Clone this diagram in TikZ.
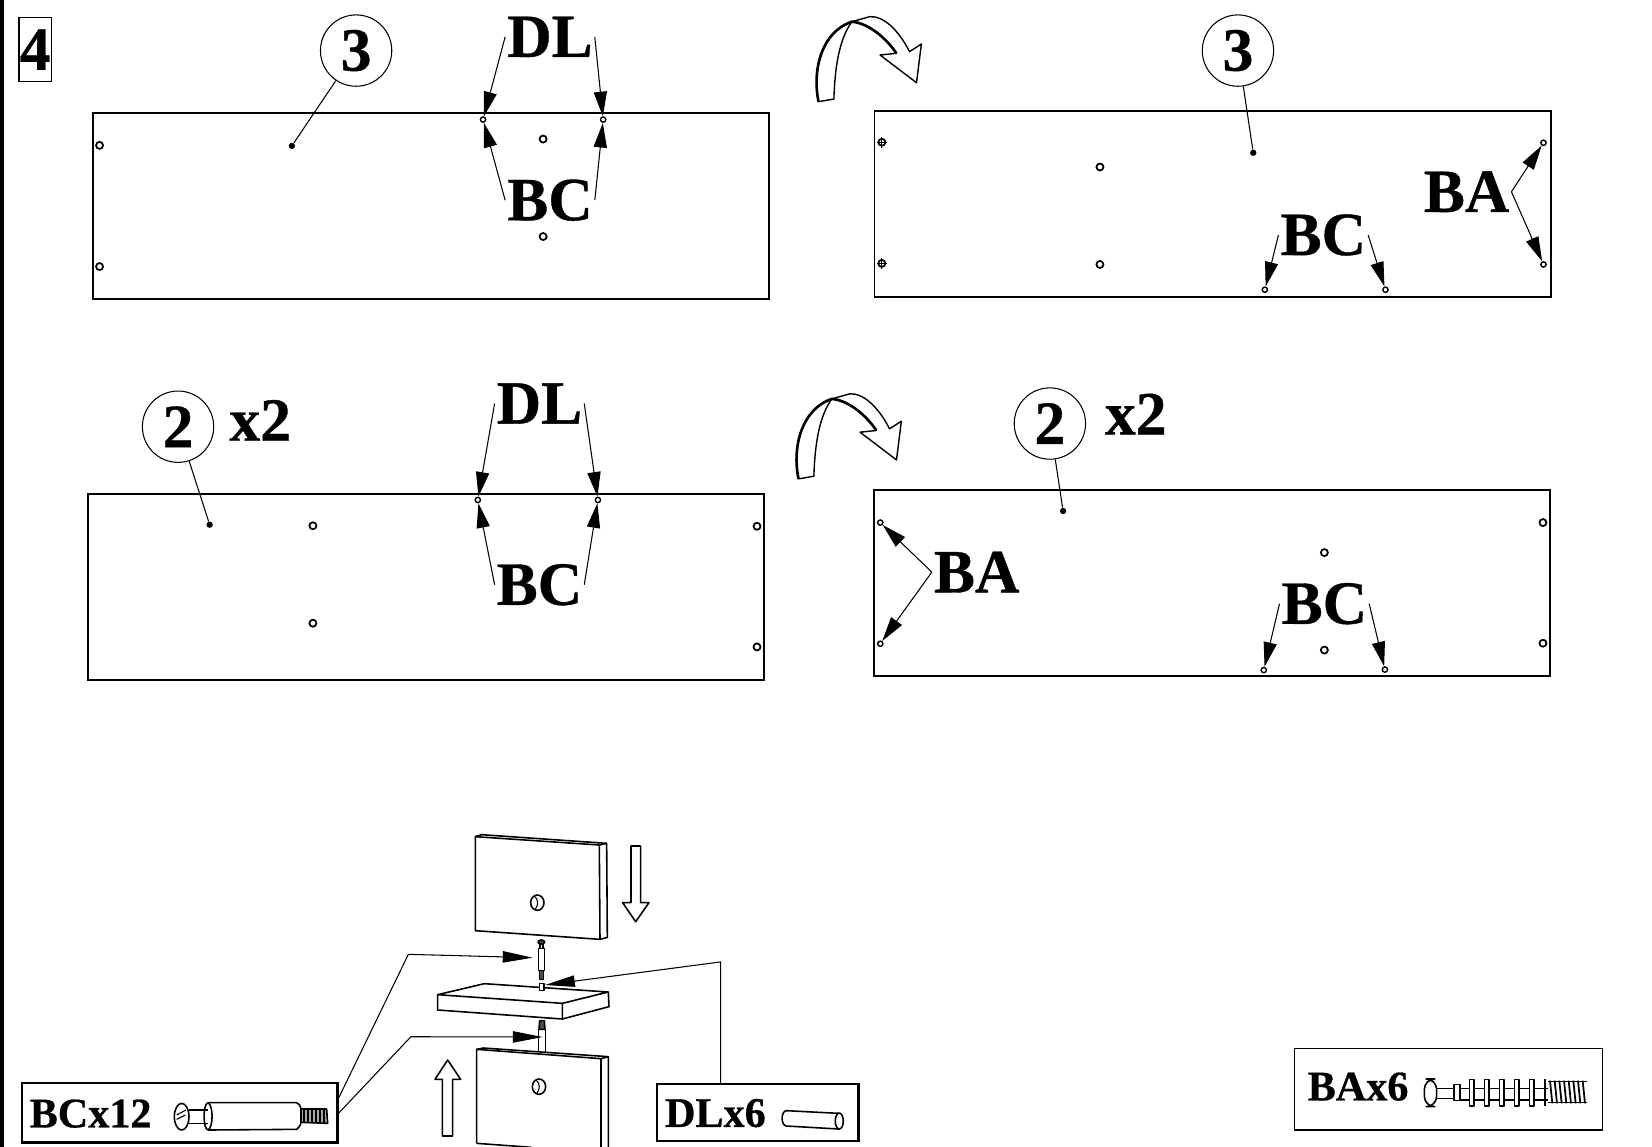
\documentclass[tikz,border=0pt]{standalone}
\usepackage{fontspec}
\setmainfont[BoldFeatures={FakeBold=0.6}]{Liberation Serif}
\usetikzlibrary{arrows.meta}
\newcommand{\xlength}{0.02107}
\newcommand{\ylength}{0.02107}
\newcommand{\zoomscale}{0.31637}
% turning arrow, drawn at the top panel place
\newcommand{\turnarrow}[1]{
	\begin{scope}[shift={#1}]
		\draw [fill=white,line width=.8pt,line join=round] (776.4,96.5) .. controls (770,65) and (780,30) .. (808,20.6) .. controls (825,22) and (842,38) .. (850.3,50.6) -- (834.8,52.2) -- (869.4,78.5) -- (874,41.8) -- (862.8,49) .. controls (852,28) and (838,15) .. (825,15.8) -- (808,20.6) .. controls (797,36) and (792,60) .. (791,94) -- cycle;
		\draw [line width=1.5pt] (776.4,96.5) .. controls (770,65) and (780,30) .. (808,20.6) .. controls (825,22) and (842,38) .. (850.3,50.6);
	\end{scope}
}
\tikzset{
	panel/.style={line width=1.1pt},
	hole/.style={circle,draw,fill=white,inner sep=0pt,minimum size=4pt,line width=1pt},
	smallhole/.style={circle,draw,fill=white,inner sep=0pt,minimum size=3pt,line width=.8pt},
	dot/.style={circle,fill=black,inner sep=0pt,minimum size=3.6pt},
	callout/.style={circle,draw,inner sep=0pt,minimum size=40.6pt,line width=.6pt,font=\fontsize{35}{40}\selectfont\bfseries},
	biglabel/.style={inner sep=1pt,font=\fontsize{35}{40}\selectfont\bfseries},
	boxlabel/.style={inner sep=0pt,font=\fontsize{24}{28}\selectfont\bfseries},
	partbox/.style={draw,inner sep=0pt,line width=1.4pt},
	thinline/.style={line width=.6pt},
	pointer/.style={line width=.6pt,-{Triangle[length=14pt,width=7.5pt]}},
	longpointer/.style={line width=.6pt,-{Triangle[length=17pt,width=6.5pt]}},
	part/.style={line width=.9pt,line join=round},
}
\begin{document}
\begin{tikzpicture}[x=\xlength cm,y=-\ylength cm]
		\useasboundingbox (0,0) rectangle (1568,1088.6);
		% page edge
		\draw [line width=2.3pt] (1.7,0) -- (1.7,1088.6);
		\node (stepno) [draw,line width=.6pt,inner sep=0pt,minimum width=18.3pt,minimum height=36.5pt,font=\fontsize{35}{40}\selectfont\bfseries] at (33.3,47) {4};
		%panel 3 front
		\draw [panel] (88,107.5) rectangle (729.5,284);
		\node (holea) [hole] at (94.5,138) {};
		\node (holeb) [hole] at (94.5,253) {};
		\node (holec) [hole] at (515.5,132) {};
		\node (holed) [hole] at (515.5,224.5) {};
		\node (holee) [smallhole] at (458.5,113.5) {};
		\node (holef) [smallhole] at (572.5,113.5) {};
		\node (dota) [dot] at (277,138.5) {};
		\node (calla) [callout] at (338,48) {3};
		\draw [thinline] (calla) -- (dota);
		\node (dla) [biglabel] at (522,35) {DL};
		\node (bca) [biglabel] at (522,190) {BC};
		\draw [pointer] (dla.west) -- (holee);
		\draw [pointer] (dla.east) -- (holef);
		\draw [pointer] (bca.west) -- (holee);
		\draw [pointer] (bca.east) -- (holef);
		%panel 3 back
		\turnarrow{(0.5,0)}
		\draw [panel] (830,105) rectangle (1472,282);
		\node (holeg) [hole] at (837,135) {};
		\node (holeh) [hole] at (837,250) {};
		\draw [line width=.6pt] (837,130) -- (837,140) (832,135) -- (842,135);
		\draw [line width=.6pt] (837,245) -- (837,255) (832,250) -- (842,250);
		\node (holei) [hole] at (1044,158.5) {};
		\node (holej) [hole] at (1044,251) {};
		\node (holek) [smallhole] at (1200.5,275) {};
		\node (holel) [smallhole] at (1315,275) {};
		\node (holem) [smallhole] at (1465,135.5) {};
		\node (holen) [smallhole] at (1465,251) {};
		\node (dotb) [dot] at (1189.5,145) {};
		\node (callb) [callout] at (1175,48) {3};
		\draw [thinline] (callb) -- (dotb);
		\node (bcb) [biglabel] at (1256,223) {BC};
		\node (bab) [biglabel] at (1392,182) {BA};
		\draw [pointer] (bcb.west) -- (holek);
		\draw [pointer] (bcb.east) -- (holel);
		\draw [pointer] (bab.east) -- (holem);
		\draw [pointer] (bab.east) -- (holen);
		%panel 2 front
		\draw [panel] (83.5,468.5) rectangle (725.5,645);
		\node (holeo) [hole] at (297,499) {};
		\node (holep) [hole] at (297,591.5) {};
		\node (holeq) [hole] at (718.5,499.5) {};
		\node (holer) [hole] at (718.5,614) {};
		\node (holes) [smallhole] at (453.5,474.5) {};
		\node (holet) [smallhole] at (567.5,474.5) {};
		\node (dotc) [dot] at (199,498) {};
		\node (callc) [callout] at (169,405) {2};
		\draw [thinline] (callc) -- (dotc);
		\node (timesc) [biglabel] at (247,399) {x2};
		\node (dlc) [biglabel] at (512,383) {DL};
		\node (bcc) [biglabel] at (512,555) {BC};
		\draw [pointer] (dlc.west) -- (holes);
		\draw [pointer] (dlc.east) -- (holet);
		\draw [pointer] (bcc.west) -- (holes);
		\draw [pointer] (bcc.east) -- (holet);
		%panel 2 back
		\turnarrow{(-18.5,358)}
		\draw [panel] (829.5,465.5) rectangle (1471,641.5);
		\node (holeu) [hole] at (1464.5,496) {};
		\node (holev) [hole] at (1464.5,610.5) {};
		\node (holew) [hole] at (1257,524.5) {};
		\node (holex) [hole] at (1257,617) {};
		\node (holey) [smallhole] at (835.5,496) {};
		\node (holez) [smallhole] at (835.5,611) {};
		\node (holeaa) [smallhole] at (1199.5,636) {};
		\node (holeab) [smallhole] at (1314.5,635.5) {};
		\node (dotd) [dot] at (1009,485) {};
		\node (calld) [callout] at (996.5,402) {2};
		\draw [thinline] (calld) -- (dotd);
		\node (timesd) [biglabel] at (1078,393) {x2};
		\node (bad) [biglabel] at (927,543) {BA};
		\node (bcd) [biglabel] at (1257,573) {BC};
		\draw [pointer] (bad.west) -- (holey);
		\draw [pointer] (bad.west) -- (holez);
		\draw [pointer] (bcd.west) -- (holeaa);
		\draw [pointer] (bcd.east) -- (holeab);
		%joint detail
		\begin{scope}[shift={(379.65,778.3)},scale=\zoomscale]
			%upper block
			\draw [part] (226,50) -- (598,75) -- (600,358) -- (226,332) -- cycle;
			\draw [part] (226,50) -- (245,44) -- (620,70) -- (622,352) -- (600,358);
			\draw [part] (598,75) -- (620,70);
			\draw [part] (412,248) ellipse [x radius=20,y radius=23];
			\draw [thinline] (403,228) .. controls (416,238) and (416,256) .. (405,269);
			\draw [part] (693,78) -- (722,78) -- (722,248) -- (747,248) -- (707,305) -- (668,248) -- (693,248) -- cycle;
			%upper pin
			\draw [part,fill=black!70] (424,366) ellipse [x radius=10,y radius=6];
			\draw [part] (420,372) -- (420,385) (429,372) -- (429,385);
			\draw [part] (415,385) rectangle (433,452);
			\draw [part,fill=black!70] (418,452) -- (430,452) -- (430,478) -- (418,478) -- cycle;
			\coordinate (pintop) at (398,413);
			%shelf
			\draw [part] (113,524) -- (253,491) -- (625,516) -- (487,550) -- cycle;
			\draw [part] (113,524) -- (113,570) -- (487,597) -- (487,550);
			\draw [part] (487,597) -- (627,560) -- (625,516);
			\draw [part,fill=white] (418,491) rectangle (432,511);
			\coordinate (dowel) at (435,495);
			%lower pin
			\draw [part] (415,695) -- (415,628) -- (437,628) -- (437,695);
			\draw [part,fill=black!70] (417,628) -- (419,602) -- (433,602) -- (435,628) -- cycle;
			\coordinate (pinlow) at (428,651);
			%lower block
			\draw [part] (230,970) -- (230,688) -- (603,716) -- (603,981);
			\draw [part] (230,688) -- (250,684) -- (625,710) -- (625,981);
			\draw [part] (603,716) -- (625,710);
			\draw [part] (230,970) -- (395,982);
			\draw [part] (417,800) ellipse [x radius=20,y radius=23];
			\draw [thinline] (408,780) .. controls (421,790) and (421,808) .. (410,821);
			\draw [part] (127,948) -- (158,948) -- (158,778) -- (182,778) -- (143,720) -- (105,778) -- (127,778) -- cycle;
		\end{scope}
		%part boxes
		\node (bcbox) [partbox,minimum width=179.4pt,minimum height=33.7pt] at (170.7,1056.2) {};
		\node (bclabel) [boxlabel] at (86,1057) {BCx12};
		\node (dlbox) [partbox,minimum width=114.7pt,minimum height=32.5pt] at (719.3,1056.1) {};
		\node (dllabel) [boxlabel] at (679,1056.5) {DLx6};
		\node (babox) [partbox,line width=.8pt,minimum width=175.3pt,minimum height=46.5pt] at (1375,1033.7) {};
		\node (balabel) [boxlabel] at (1289,1031.4) {BAx6};
		%leaders
		\coordinate (bcporta) at (321,1043);
		\coordinate (bcportb) at (321,1057);
		\coordinate (bcbenda) at (387.6,905.8);
		\coordinate (bcbendb) at (390,984);
		\coordinate (dlport) at (684,1029);
		\coordinate (dlbend) at (684,913);
		\draw [longpointer] (bcporta) -- (bcbenda) -- (pintop);
		\draw [longpointer] (bcportb) -- (bcbendb) -- (pinlow);
		\draw [longpointer] (dlport) -- (dlbend) -- (dowel);
		%BC fitting
		\begin{scope}[shift={(0,1006.1)},scale=\zoomscale]
			\draw [part] (545,170) ellipse [x radius=22,y radius=40];
			\draw [thinline] (530,165) -- (558,150) (530,178) -- (556,165);
			\draw [part] (567,150) -- (625,150) (567,190) -- (625,190);
			\draw [part] (890,128) -- (625,128) .. controls (608,128) and (608,210) .. (625,210) -- (890,208) .. controls (900,200) and (903,190) .. (903,187) -- (903,147) .. controls (903,140) and (898,130) .. (890,128);
			\draw [part] (625,128) .. controls (640,140) and (640,198) .. (625,210);
			\draw [part,fill=black!35] (903,147) -- (980,147) -- (983,190) -- (903,187) -- cycle;
			\foreach \threadx in {912,924,936,948,960,972}
				\draw [line width=.8pt] (\threadx,147) -- (\threadx,189);
		\end{scope}
		%DL dowel
		\begin{scope}[shift={(607.4,1015.6)},scale=\zoomscale]
			\draw [part] (597,130) -- (440,122) .. controls (422,122) and (422,168) .. (440,168) -- (597,177);
			\draw [part] (598,153) ellipse [x radius=12,y radius=24];
		\end{scope}
		%BA screw
		\begin{scope}[shift={(1214.9,987.1)},scale=\zoomscale]
			\draw [part,rounded corners=6pt] (433,117) rectangle (470,200);
			\draw [part] (470,145) -- (522,145) (470,175) -- (522,175);
			\draw [part] (522,133) rectangle (540,182);
			\draw [part] (540,145) -- (805,145) (540,180) -- (805,180);
			\foreach \ribx in {575,620,665,710,755}
				\draw [part,fill=white] (\ribx-7,118) rectangle (\ribx+7,198);
			\draw [part] (795,118) -- (795,198);
			\foreach \threadx in {810,824,838,852,866,880,894,908}
				\draw [line width=1pt] (\threadx,122) -- (\threadx+7,190);
			\draw [line width=.6pt] (805,125) -- (920,125) (805,188) -- (920,188);
		\end{scope}
	\end{tikzpicture}
\end{document}
